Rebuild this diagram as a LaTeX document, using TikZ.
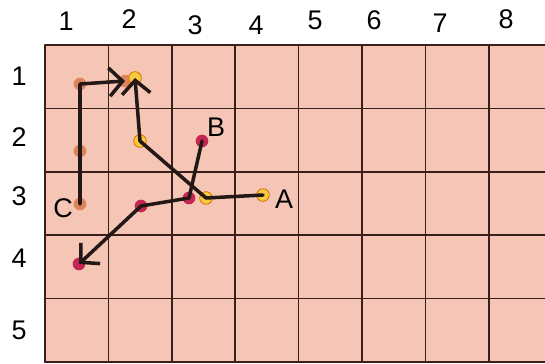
\documentclass[tikz,border=0pt]{standalone}
\usepackage{fontspec}
\setmainfont{Liberation Sans}
\usetikzlibrary{arrows.meta}
\definecolor{cellpink}{RGB}{245,198,182}
\definecolor{gridbrown}{RGB}{58,30,26}
\definecolor{dotorange}{RGB}{222,132,92}
\definecolor{dotyellow}{RGB}{246,202,62}
\definecolor{dotred}{RGB}{196,40,82}
\definecolor{pathblack}{RGB}{35,24,21}

\begin{document}
\begin{tikzpicture}[x=0.03cm,y=-0.03cm,line cap=round,line join=round,
  lbl/.style={font=\fontsize{23}{23}\selectfont,inner sep=0pt},
  dot/.style={circle,inner sep=0pt,minimum size=0.38cm},
  odot/.style={dot,fill=dotorange},
  ydot/.style={dot,fill=dotyellow,draw=orange!85!black,line width=.7pt},
  rdot/.style={dot,fill=dotred},
  move/.style={draw=pathblack,line width=3pt},
  arrowtip/.style={-{Straight Barb[length=4mm,width=8.5mm,line width=3pt]}}]
\path[use as bounding box] (0,0) rectangle (545,363);
% board
\fill[cellpink] (45,45) rectangle (552,362);
\foreach \i in {0,...,8}
  \draw[gridbrown,line width=1.5pt] (45+\i*63.4,45) -- (45+\i*63.4,362);
\foreach \j in {0,...,5}
  \draw[gridbrown,line width=1.5pt] (45,45+\j*63.4) -- (552,45+\j*63.4);
% numbers
\foreach \n/\x/\y in {1/66/21,2/129/19,3/195/25,4/256/25,5/315/20,6/374/20,7/440/23,8/506/19}
  \node[lbl] (col\n) at (\x,\y) {\n};
\foreach \n/\y in {1/76,2/137,3/196,4/258,5/330}
  \node[lbl] (row\n) at (19,\y) {\n};
% dots
\node[odot] (c1) at (80,204) {};
\node[odot] (c2) at (80,151) {};
\node[odot] (c3) at (80,84) {};
\node[odot] (c4) at (125,81) {};
\node[ydot] (a1) at (263,195) {};
\node[ydot] (a2) at (206,198) {};
\node[ydot] (a3) at (140,141) {};
\node[ydot] (a4) at (135,78) {};
\node[rdot] (b1) at (202,141) {};
\node[rdot] (b2) at (189,198) {};
\node[rdot] (b3) at (141,206) {};
\node[rdot] (b4) at (79,264) {};
% moves
\draw[move,arrowtip] (c1.center) -- (c3.center) -- (c4.center);
\draw[move,arrowtip] (a1.center) -- (a2.center) -- (a3.center) -- (a4.center);
\draw[move,arrowtip] (b1.center) -- (b2.center) -- (b3.center) -- (b4.center);
% letters
\node[lbl] (labA) at (284,199) {A};
\node[lbl] (labB) at (216,127) {B};
\node[lbl] (labC) at (63,208) {C};
\end{tikzpicture}
\end{document}
